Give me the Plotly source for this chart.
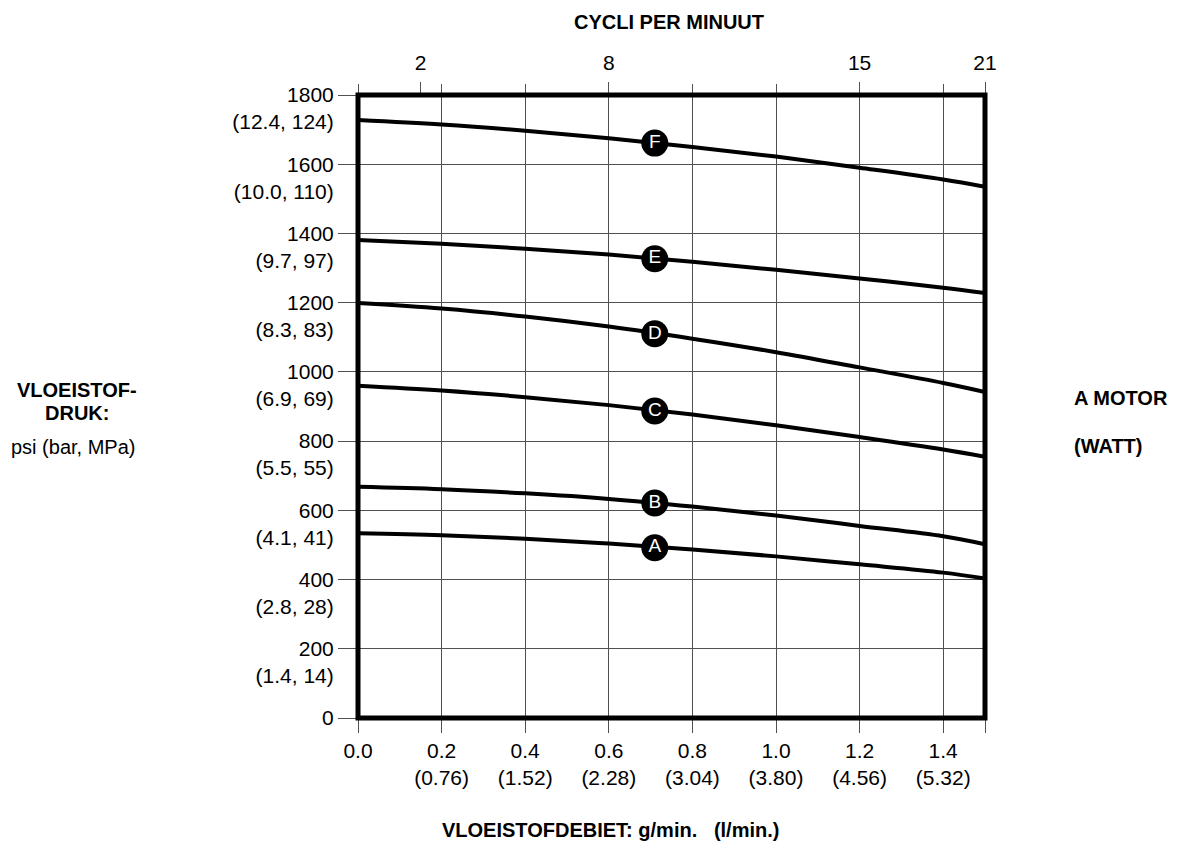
import plotly.graph_objects as go

# ---- data ----
flow_gpm = [0.0, 0.2, 0.4, 0.6, 0.8, 1.0, 1.2, 1.4, 1.5]
curve_A = [534, 528, 518, 504, 487, 467, 444, 420, 403]
curve_B = [668, 661, 649, 633, 611, 585, 555, 525, 502]
curve_C = [960, 946, 927, 904, 877, 846, 812, 776, 755]
curve_D = [1199, 1183, 1160, 1131, 1096, 1057, 1013, 968, 942]
curve_E = [1381, 1370, 1356, 1339, 1318, 1295, 1270, 1243, 1228]
curve_F = [1728, 1715, 1697, 1675, 1650, 1622, 1590, 1556, 1535]
curve_names = ["A", "B", "C", "D", "E", "F"]
label_x = [0.71, 0.71, 0.71, 0.71, 0.71, 0.71]
label_y = [492, 621, 887, 1110, 1327, 1661]

x_tickvals = [0.0, 0.2, 0.4, 0.6, 0.8, 1.0, 1.2, 1.4, 1.5]
x_ticktext = ["0.0", "0.2", "0.4", "0.6", "0.8", "1.0", "1.2", "1.4", ""]
x_ticktext_lpm = ["", "(0.76)", "(1.52)", "(2.28)", "(3.04)", "(3.80)", "(4.56)", "(5.32)", ""]

y_tickvals = [0, 200, 400, 600, 800, 1000, 1200, 1400, 1600, 1800]
y_ticktext_bar = ["", "(1.4, 14)", "(2.8, 28)", "(4.1, 41)", "(5.5, 55)", "(6.9, 69)",
                  "(8.3, 83)", "(9.7, 97)", "(10.0, 110)", "(12.4, 124)"]

cycle_pos = [0.15, 0.6, 1.2, 1.5]
cycle_text = ["2", "8", "15", "21"]
grid_x = [0.0, 0.2, 0.4, 0.6, 0.8, 1.0, 1.2, 1.4]

FONT = "Liberation Sans, Arial, sans-serif"
GRID = "#505050"
TICKFS = 21

fig = go.Figure()
for name, ys in zip(curve_names, [curve_A, curve_B, curve_C, curve_D, curve_E, curve_F]):
    fig.add_trace(go.Scatter(x=flow_gpm, y=ys, mode="lines", name=name,
                             line=dict(color="black", width=4, shape="spline", smoothing=1.0),
                             showlegend=False, hoverinfo="skip"))

fig.add_trace(go.Scatter(x=label_x, y=label_y, mode="markers+text", text=curve_names,
                         textposition="middle center",
                         textfont=dict(color="white", size=19, family=FONT),
                         marker=dict(color="black", size=27),
                         showlegend=False, hoverinfo="skip"))

# invisible traces to activate the extra axes
fig.add_trace(go.Scatter(x=[None], y=[None], xaxis="x2", yaxis="y", showlegend=False))
fig.add_trace(go.Scatter(x=[None], y=[None], xaxis="x3", yaxis="y", showlegend=False))
fig.add_trace(go.Scatter(x=[None], y=[None], xaxis="x", yaxis="y2", showlegend=False))

XR = [0, 1.5]
YR = [0, 1800]

fig.update_layout(
    width=1171, height=835,
    margin=dict(l=350, r=194, t=87, b=125),
    paper_bgcolor="white", plot_bgcolor="white",
    font=dict(family=FONT, color="black", size=TICKFS),
    xaxis=dict(range=XR, tickmode="array", tickvals=x_tickvals, ticktext=x_ticktext,
               ticks="outside", ticklen=14, tickcolor=GRID, tickwidth=1,
               showgrid=True, gridcolor=GRID, gridwidth=1, zeroline=False,
               showline=False, tickfont=dict(size=TICKFS)),
    xaxis3=dict(range=XR, overlaying="x", side="bottom", tickmode="array",
                tickvals=x_tickvals, ticktext=x_ticktext_lpm, ticks="outside", ticklen=14,
                tickcolor="rgba(0,0,0,0)", showgrid=False, zeroline=False,
                ticklabelstandoff=27, tickfont=dict(size=TICKFS)),
    xaxis2=dict(range=XR, overlaying="x", side="top", tickmode="array",
                tickvals=cycle_pos, ticktext=cycle_text, ticks="outside", ticklen=12,
                tickcolor=GRID, showgrid=False, zeroline=False, ticklabelstandoff=4,
                minor=dict(tickmode="array", tickvals=grid_x, ticks="outside", ticklen=10,
                           tickcolor=GRID, showgrid=False),
                tickfont=dict(size=TICKFS)),
    yaxis=dict(range=YR, tickmode="array", tickvals=y_tickvals,
               ticks="outside", ticklen=19, tickcolor=GRID, tickwidth=1,
               showgrid=True, gridcolor=GRID, gridwidth=1, zeroline=False,
               showline=False, tickfont=dict(size=TICKFS)),
    yaxis2=dict(range=YR, overlaying="y", side="left", tickmode="array",
                tickvals=y_tickvals, ticktext=y_ticktext_bar, ticks="outside", ticklen=19,
                tickcolor="rgba(0,0,0,0)", showgrid=False, zeroline=False,
                ticklabelshift=27, tickfont=dict(size=TICKFS)),
    shapes=[dict(type="rect", xref="paper", yref="paper", x0=0, y0=0, x1=1, y1=1,
                 line=dict(color="black", width=5), layer="above")],
)

BOLD = dict(family=FONT, size=20, color="black", weight="bold")
REG = dict(family=FONT, size=20, color="black")


def note(text, x, y, font, xanchor="center"):
    return dict(text=text, x=x, y=y, xref="paper", yref="paper", showarrow=False,
                font=font, xanchor=xanchor, yanchor="middle")


ann = [
    note("CYCLI PER MINUUT", 0.496, 1.117, BOLD),
    note("VLOEISTOFDEBIET: g/min.&nbsp;&nbsp; (l/min.)", 0.4035, -0.18, BOLD),
    note("VLOEISTOF-", -0.448, 0.5265, BOLD),
    note("DRUK:", -0.448, 0.4896, BOLD),
    note("psi (bar, MPa)", -0.4545, 0.435, REG),
    note("A MOTOR", 1.1388, 0.5136, BOLD, "left"),
    note("(WATT)", 1.1388, 0.4366, BOLD, "left"),
]
fig.update_layout(annotations=ann)

fig.write_html("out.html")
